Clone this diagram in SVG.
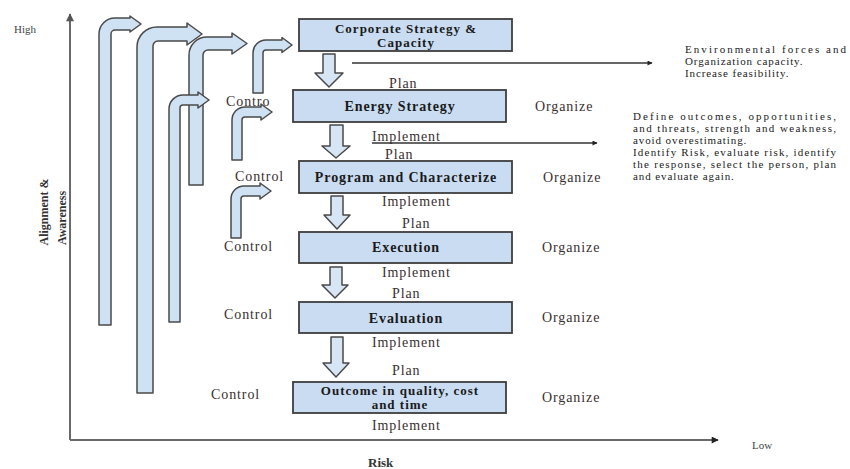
<svg xmlns="http://www.w3.org/2000/svg" width="850" height="469" viewBox="0 0 850 469">
<style>
.box{fill:#c9dcf1;stroke:#3d3d3d;stroke-width:1.8}
.blk{fill:#cfe2f4;stroke:#4a4a4a;stroke-width:1.5;stroke-linejoin:round}
.dn{fill:#d6e6f5;stroke:#4a4a4a;stroke-width:1.5;stroke-linejoin:round}
.bt{font-family:"Liberation Serif",serif;font-weight:bold;font-size:14px;letter-spacing:0.9px;fill:#1a1a1a;text-anchor:middle}
.bt2{font-family:"Liberation Serif",serif;font-weight:bold;font-size:13px;letter-spacing:1px;fill:#1a1a1a;text-anchor:middle}
.lb{font-family:"Liberation Serif",serif;font-size:14px;letter-spacing:0.9px;fill:#3a3030}
.pg{font-family:"Liberation Serif",serif;font-size:11px;letter-spacing:0.9px;fill:#222}
.ax{stroke:#6a6a6a;stroke-width:2;fill:none}
.ln{stroke:#333;stroke-width:1.3;fill:none}
.sm{font-family:"Liberation Serif",serif;font-size:11px;fill:#444}
</style>
<defs>
<marker id="ah" viewBox="0 0 10 10" refX="9" refY="5" markerWidth="7" markerHeight="5" markerUnits="userSpaceOnUse" orient="auto">
<path d="M0,0 L10,5 L0,10 Z" fill="#222"/>
</marker>
<marker id="axh" viewBox="0 0 10 10" refX="9" refY="5" markerWidth="12" markerHeight="8" markerUnits="userSpaceOnUse" orient="auto">
<path d="M0,0 L10,5 L0,10 Z" fill="#555"/>
</marker>
<marker id="axh2" viewBox="0 0 10 10" refX="9" refY="5" markerWidth="9" markerHeight="7" markerUnits="userSpaceOnUse" orient="auto">
<path d="M0,0 L10,5 L0,10 Z" fill="#222"/>
</marker>
</defs>
<rect width="850" height="469" fill="#ffffff"/>

<g id="axes">
<path class="ax" d="M70,440 V14" marker-end="url(#axh)"/>
<path class="ax" d="M70,440 H718" stroke="#555" marker-end="url(#axh2)"/>
<text class="sm" x="14" y="33">High</text>
<text class="sm" x="752" y="449">Low</text>
<text x="368" y="467" font-family="Liberation Serif, serif" font-weight="bold" font-size="13" fill="#333">Risk</text>
<text transform="translate(48,212) rotate(-90)" text-anchor="middle" font-family="Liberation Serif, serif" font-weight="bold" font-size="12" fill="#333">Alignment &amp;</text>
<text transform="translate(66,218) rotate(-90)" text-anchor="middle" font-family="Liberation Serif, serif" font-weight="bold" font-size="12" fill="#333">Awareness</text>
</g>

<g id="control-arrows">
<path class="blk" d="M99,325 V34 A16,16 0 0 1 115,18 H130 V16 L141,24 L130,32 V30 H115 A4,4 0 0 0 111,34 V325 Z"/>
<path class="blk" d="M137,393 V47 A20,20 0 0 1 157,27 H187 V23 L202,34 L187,45 V41 H158 A5,5 0 0 0 153,46 V393 Z"/>
<path class="blk" d="M189,185 V55 A18,18 0 0 1 207,37 H232 V33 L247,43.5 L232,54 V50 H208 A5,5 0 0 0 203,55 V185 Z"/>
<path class="blk" d="M253,93 V53 A13,13 0 0 1 266,40 H282 V37.5 L292,45 L282,52.5 V50 H266 A3,3 0 0 0 263,53 V93 Z"/>
<path class="blk" d="M169,322 V109 A14,14 0 0 1 183,95 H198 V92 L209,100 L198,108 V105 H183 A3,3 0 0 0 180,108 V322 Z"/>
<path class="blk" d="M232,160 V120 A13,13 0 0 1 245,107 H261 V104 L272,112 L261,120 V117 H245 A3,3 0 0 0 242,120 V160 Z"/>
<path class="blk" d="M231,238 V199 A13,13 0 0 1 244,186 H260 V183 L271,191 L260,199 V196 H244 A3,3 0 0 0 241,199 V238 Z"/>
</g>

<g id="connectors">
<path class="dn" d="M323,54 H335 V73 H343 L329,87 L315,73 H323 Z"/>
<path class="dn" d="M330,125 H343 V146 H350 L336,158 L322,146 H330 Z"/>
<path class="dn" d="M331,196 H343 V215 H350 L337,229 L324,215 H331 Z"/>
<path class="dn" d="M330,267 H342 V285 H348 L335,298 L322,285 H330 Z"/>
<path class="dn" d="M331,337 H343 V363 H349 L336,377 L323,363 H331 Z"/>
<path class="ln" d="M352,63 H652" marker-end="url(#ah)"/>
<path class="ln" d="M372,143 H597" marker-end="url(#ah)"/>
</g>

<g id="n1">
<rect class="box" x="299" y="19" width="213" height="32"/>
<text class="bt2" x="406" y="33">Corporate Strategy &amp;</text>
<text class="bt2" x="406" y="47">Capacity</text>
</g>
<g id="n2">
<rect class="box" x="293" y="90" width="213" height="32"/>
<text class="bt" x="400" y="111">Energy Strategy</text>
</g>
<g id="n3">
<rect class="box" x="299" y="161" width="213" height="32"/>
<text class="bt" x="406" y="182">Program and Characterize</text>
</g>
<g id="n4">
<rect class="box" x="299" y="232" width="213" height="31"/>
<text class="bt" x="406" y="252">Execution</text>
</g>
<g id="n5">
<rect class="box" x="299" y="302" width="213" height="31"/>
<text class="bt" x="406" y="323">Evaluation</text>
</g>
<g id="n6">
<rect class="box" x="293" y="382" width="213" height="31"/>
<text class="bt2" x="400" y="395">Outcome in quality, cost</text>
<text class="bt2" x="400" y="409">and time</text>
</g>

<g id="labels">
<text class="lb" x="389" y="88">Plan</text>
<text class="lb" x="372" y="141">Implement</text>
<text class="lb" x="385" y="159">Plan</text>
<text class="lb" x="382" y="206">Implement</text>
<text class="lb" x="402" y="228">Plan</text>
<text class="lb" x="382" y="277">Implement</text>
<text class="lb" x="392" y="298">Plan</text>
<text class="lb" x="372" y="347">Implement</text>
<text class="lb" x="392" y="375">Plan</text>
<text class="lb" x="372" y="430">Implement</text>
<text class="lb" x="535" y="111">Organize</text>
<text class="lb" x="543" y="182">Organize</text>
<text class="lb" x="542" y="252">Organize</text>
<text class="lb" x="542" y="322">Organize</text>
<text class="lb" x="542" y="402">Organize</text>
<text class="lb" x="226" y="106">Contro</text>
<text class="lb" x="235" y="181">Control</text>
<text class="lb" x="224" y="251">Control</text>
<text class="lb" x="224" y="319">Control</text>
<text class="lb" x="211" y="399">Control</text>
</g>

<g id="note1">
<text class="pg" x="685" y="53" textLength="162" lengthAdjust="spacing">Environmental forces and</text>
<text class="pg" x="685" y="65">Organization capacity.</text>
<text class="pg" x="685" y="77">Increase feasibility.</text>
</g>
<g id="note2">
<text class="pg" x="633" y="120" textLength="204" lengthAdjust="spacing">Define outcomes, opportunities,</text>
<text class="pg" x="633" y="132" textLength="204" lengthAdjust="spacing">and threats, strength and weakness,</text>
<text class="pg" x="633" y="144">avoid overestimating.</text>
<text class="pg" x="633" y="156" textLength="204" lengthAdjust="spacing">Identify Risk, evaluate risk, identify</text>
<text class="pg" x="633" y="168" textLength="204" lengthAdjust="spacing">the response, select the person, plan</text>
<text class="pg" x="633" y="180">and evaluate again.</text>
</g>
</svg>
